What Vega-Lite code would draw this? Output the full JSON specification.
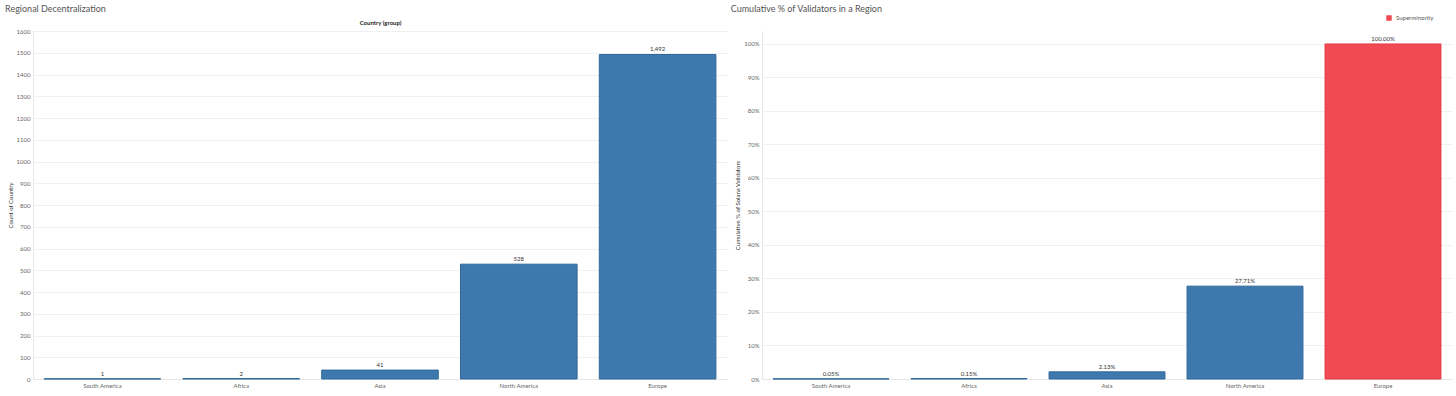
{
  "$schema": "https://vega.github.io/schema/vega-lite/v6.json",
  "background": "white",
  "padding": 5,
  "spacing": 3,
  "data": {
    "values": [
      {"region": "South America", "count": 1, "cum_pct": 0.000484, "segment": "Other"},
      {"region": "Africa", "count": 2, "cum_pct": 0.001453, "segment": "Other"},
      {"region": "Asia", "count": 41, "cum_pct": 0.021318, "segment": "Other"},
      {"region": "North America", "count": 528, "cum_pct": 0.277132, "segment": "Other"},
      {"region": "Europe", "count": 1492, "cum_pct": 1.0, "segment": "Superminority"}
    ]
  },
  "config": {
    "font": "Lato",
    "view": {"stroke": null},
    "axis": {
      "labelFont": "Lato",
      "labelFontSize": 6,
      "labelColor": "#666666",
      "labelOverlap": false,
      "titleFont": "Lato",
      "titleFontSize": 6,
      "titleFontWeight": "normal",
      "titleColor": "#333333",
      "gridColor": "#f0f0f0",
      "gridWidth": 1,
      "domainColor": "#e6e6e6",
      "ticks": false
    },
    "title": {
      "font": "Lato",
      "fontSize": 9,
      "fontWeight": "normal",
      "color": "#555555",
      "anchor": "start",
      "frame": "bounds",
      "offset": 5
    },
    "legend": {
      "labelFont": "Lato",
      "labelFontSize": 6,
      "labelColor": "#555555"
    }
  },
  "resolve": {
    "scale": {"color": "independent", "stroke": "independent"},
    "legend": {"color": "independent", "stroke": "independent"}
  },
  "hconcat": [
    {
      "width": 694,
      "height": 348,
      "title": {"text": "Regional Decentralization", "dx": -2},
      "layer": [
        {
          "mark": {"type": "bar", "fill": "#3e79ad", "stroke": "#30699b", "strokeWidth": 1},
          "encoding": {
            "x": {
              "field": "region",
              "type": "nominal",
              "sort": ["South America", "Africa", "Asia", "North America", "Europe"],
              "scale": {"paddingInner": 0.16, "paddingOuter": 0.08},
              "axis": {"orient": "bottom", "title": null, "labelAngle": 0, "labelPadding": 3, "grid": false, "domain": true}
            },
            "y": {
              "field": "count",
              "type": "quantitative",
              "scale": {"domain": [0, 1600], "nice": false},
              "axis": {
                "title": "Count of Country",
                "values": [0, 100, 200, 300, 400, 500, 600, 700, 800, 900, 1000, 1100, 1200, 1300, 1400, 1500, 1600],
                "format": "d",
                "labelPadding": 3,
                "titlePadding": 3,
                "grid": true
              }
            }
          }
        },
        {
          "mark": {"type": "text", "baseline": "bottom", "dy": -2, "fontSize": 6, "color": "#333333", "font": "Lato"},
          "encoding": {
            "x": {
              "field": "region",
              "type": "nominal",
              "sort": ["South America", "Africa", "Asia", "North America", "Europe"],
              "scale": {"paddingInner": 0.16, "paddingOuter": 0.08},
              "axis": {"orient": "top", "title": "Country (group)", "labels": false, "domain": false, "grid": false, "titlePadding": 6, "titleFontWeight": "bold", "titleColor": "#222222"}
            },
            "y": {
              "field": "count",
              "type": "quantitative",
              "scale": {"domain": [0, 1600], "nice": false},
              "axis": {
                "title": "Count of Country",
                "values": [0, 100, 200, 300, 400, 500, 600, 700, 800, 900, 1000, 1100, 1200, 1300, 1400, 1500, 1600],
                "format": "d",
                "labelPadding": 3,
                "titlePadding": 3,
                "grid": true
              }
            },
            "text": {"field": "count", "type": "quantitative", "format": ","}
          }
        }
      ],
      "resolve": {"axis": {"x": "independent"}}
    },
    {
      "width": 690,
      "height": 348,
      "title": {"text": "Cumulative % of Validators in a Region", "dx": -4, "offset": 1},
      "layer": [
        {
          "mark": {"type": "bar", "strokeWidth": 1},
          "encoding": {
            "x": {
              "field": "region",
              "type": "nominal",
              "sort": ["South America", "Africa", "Asia", "North America", "Europe"],
              "scale": {"paddingInner": 0.16, "paddingOuter": 0.08},
              "axis": {"title": null, "labelAngle": 0, "labelPadding": 3, "grid": false}
            },
            "y": {
              "field": "cum_pct",
              "type": "quantitative",
              "scale": {"domain": [0, 1.0387], "nice": false},
              "axis": {
                "title": "Cumulative % of Solana Validators",
                "values": [0, 0.1, 0.2, 0.3, 0.4, 0.5, 0.6, 0.7, 0.8, 0.9, 1.0],
                "format": ".0%",
                "labelPadding": 3,
                "titlePadding": 3,
                "grid": true
              }
            },
            "color": {
              "field": "segment",
              "type": "nominal",
              "scale": {"domain": ["Superminority", "Other"], "range": ["#f24a53", "#3e79ad"]},
              "legend": {"values": ["Superminority"], "title": null, "orient": "none", "legendX": 624, "legendY": -16, "symbolType": "square", "symbolSize": 30, "symbolStrokeWidth": 0}
            },
            "stroke": {
              "field": "segment",
              "type": "nominal",
              "scale": {"domain": ["Superminority", "Other"], "range": ["#e23a45", "#30699b"]},
              "legend": null
            }
          }
        },
        {
          "mark": {"type": "text", "baseline": "bottom", "dy": -2, "fontSize": 6, "color": "#333333", "font": "Lato"},
          "encoding": {
            "x": {
              "field": "region",
              "type": "nominal",
              "sort": ["South America", "Africa", "Asia", "North America", "Europe"],
              "scale": {"paddingInner": 0.16, "paddingOuter": 0.08},
              "axis": {"title": null, "labelAngle": 0, "labelPadding": 3, "grid": false}
            },
            "y": {
              "field": "cum_pct",
              "type": "quantitative",
              "scale": {"domain": [0, 1.0387], "nice": false},
              "axis": {
                "title": "Cumulative % of Solana Validators",
                "values": [0, 0.1, 0.2, 0.3, 0.4, 0.5, 0.6, 0.7, 0.8, 0.9, 1.0],
                "format": ".0%",
                "labelPadding": 3,
                "titlePadding": 3,
                "grid": true
              }
            },
            "text": {"field": "cum_pct", "type": "quantitative", "format": ".2%"}
          }
        }
      ]
    }
  ]
}
